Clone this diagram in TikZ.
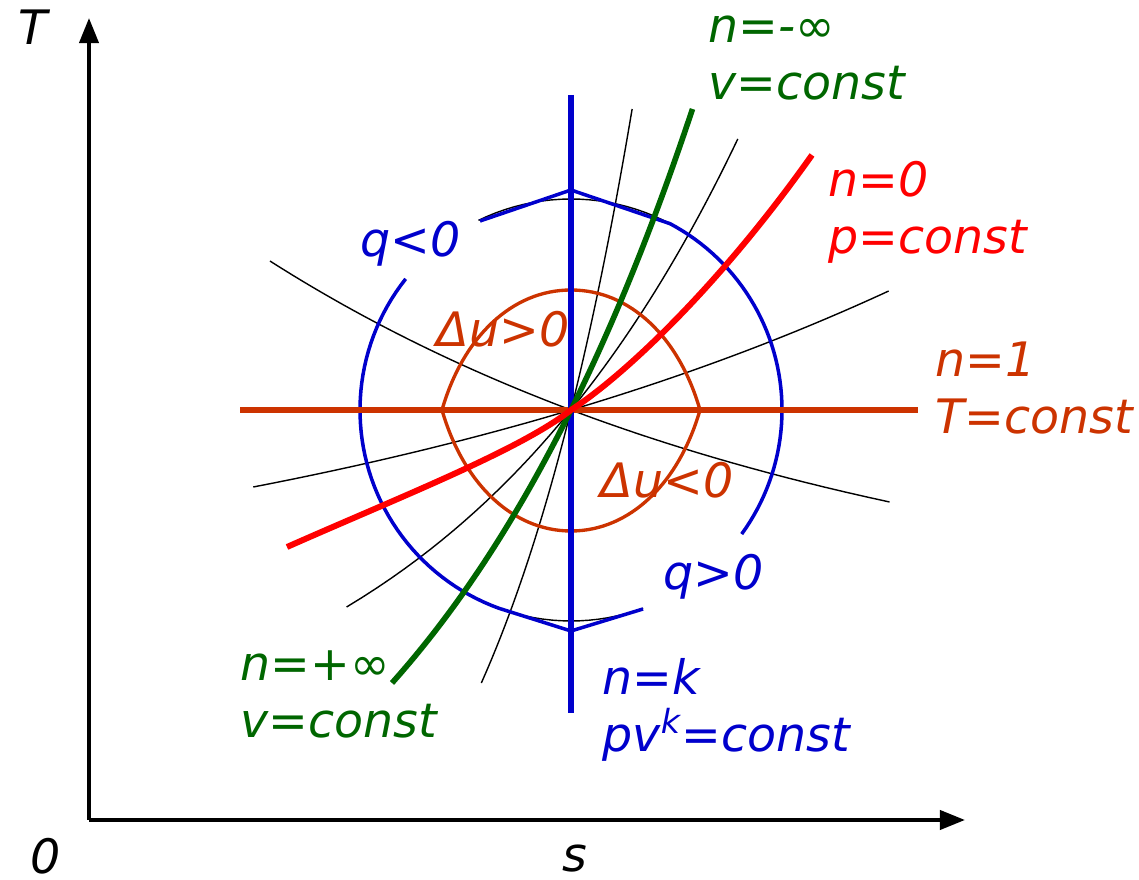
\documentclass[tikz,border=0pt]{standalone}
\usepackage{fontspec}
\setmainfont{DejaVu Sans}
\usepackage{tikz}
\usetikzlibrary{arrows.meta, positioning}
\definecolor{tsblue}{HTML}{0000CC}
\definecolor{tsred}{HTML}{FF0000}
\definecolor{tsgreen}{HTML}{006600}
\definecolor{tsorange}{HTML}{CC3300}

\begin{document}
\begin{tikzpicture}[
  x=0.01cm, y=-0.01cm,
  axis/.style={line width=1.1pt, -{Triangle[length=2.5mm, width=1.9mm]}},
  polytrope/.style={black, line width=0.4pt},
  heavy/.style={line width=1.6pt},
  qarc/.style={tsblue, line width=1pt, line join=miter},
  duarc/.style={tsorange, line width=0.95pt},
  lbl/.style={font=\fontsize{13.5}{16.3}\selectfont\itshape,
    inner sep=0pt, anchor=base west, align=left}
]
  \useasboundingbox (0,0) rectangle (1139,880);
  \coordinate (orig) at (89,820);
  \coordinate (Ttip) at (89,18);
  \coordinate (stip) at (965,820);
  \coordinate (O) at (571,410);

  % axes
  \draw[axis] (orig) -- (Ttip);
  \draw[axis] (orig) -- (stip);

  % other polytropes
  \draw[polytrope] plot[domain=261:502, samples=50] ({571-574*ln((626-\x)/216)}, \x);
  \draw[polytrope] plot[domain=291:487, samples=50] ({571+730*ln((628.2-\x)/218.2)}, \x);
  \draw[polytrope] plot[domain=139:607, samples=50] ({571+313*ln((795-\x)/385)}, \x);
  \draw[polytrope] plot[domain=109:683, samples=50] ({571+154.5*ln((1030-\x)/620)}, \x);
  \draw[polytrope] plot[domain=116:-36, samples=60] ({571+211*cos(\x)}, {410-211*sin(\x)});
  \draw[polytrope] plot[domain=141.6:290, samples=60] ({571+211*cos(\x)}, {410-211*sin(\x)});

  % heat sign arcs
  \draw[qarc] (480,221) -- (571,190)
    -- plot[domain=62:-36, samples=50] ({571+211*cos(\x)}, {410-211*sin(\x)});
  \draw[qarc] plot[domain=141.6:250, samples=50] ({571+211*cos(\x)}, {410-211*sin(\x)})
    -- (571,631) -- (643,609);

  % internal energy sign
  \draw[duarc] (442,410) .. controls (463,337) and (512,290) .. (571,290)
    .. controls (630,290) and (679,337) .. (700,410)
    .. controls (679,483) and (630,531) .. (571,531)
    .. controls (512,531) and (463,483) .. (442,410) -- cycle;

  % main polytropes
  \draw[heavy, tsorange, line width=1.45pt] (240,410) -- (918,410);
  \draw[heavy, tsblue] (571,95) -- (571,713);
  \draw[heavy, tsgreen] plot[domain=109:683, samples=60] ({571+305*ln((1025-\x)/615)}, \x);
  \draw[heavy, tsred, line width=1.7pt] (287,547) .. controls (400,497) and (520,450) .. (O)
    .. controls (625,375) and (720,285) .. (812,155);

  % labels
  \node[lbl] (Tlbl) at (18,45) {T};
  \node[lbl] (zero) at (30,874) {0};
  \node[lbl] (slbl) at (562,872) {s};
  \node[lbl, text=tsgreen] (isochoreup) at (708,100) {n=-∞\\v=const};
  \node[lbl, text=tsred] (isobar) at (828,254) {n=0\\p=const};
  \node[lbl, text=tsorange] (isotherm) at (935,434) {n=1\\T=const};
  \node[lbl, text=tsgreen] (isochoredn) at (240,738) {n=+∞\\v=const};
  \node[lbl, text=tsblue] (adiabat) at (602,752) {n=k\\pv\textsuperscript{k}=const};
  \node[lbl, text=tsblue] (qneg) at (360,257) {q<0};
  \node[lbl, text=tsblue] (qpos) at (663,590) {q>0};
  \node[lbl, text=tsorange] (dupos) at (436,347) {Δu>0};
  \node[lbl, text=tsorange] (duneg) at (600,498) {Δu<0};
\end{tikzpicture}
\end{document}
